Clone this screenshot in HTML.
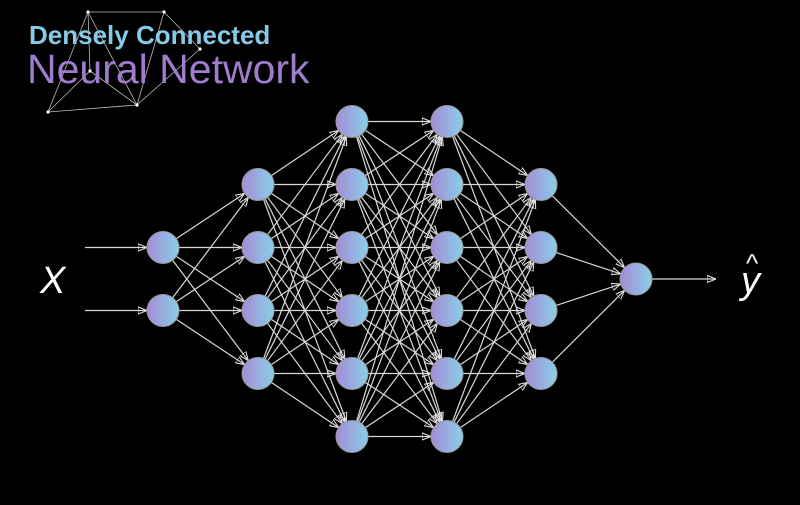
<!DOCTYPE html>
<html><head><meta charset="utf-8"><style>
body{margin:0;background:#000;}
svg{display:block}
</style></head><body>
<svg id="c" width="800" height="505" viewBox="0 0 800 505" xmlns="http://www.w3.org/2000/svg">
<defs>
<linearGradient id="g" x1="0" x2="1" y1="0" y2="0"><stop offset="0" stop-color="#a68bd6"/><stop offset="1" stop-color="#88cfe8"/></linearGradient>
<marker id="ah" viewBox="0 0 10 10" refX="10" refY="5" markerWidth="9" markerHeight="9" markerUnits="userSpaceOnUse" orient="auto"><path d="M0,1 L10,5 L0,9 Z" fill="none" stroke="#ddd" stroke-width="1.2"/></marker>
</defs>
<rect width="800" height="505" fill="#000"/>
<g id="deco" stroke="#bbb" stroke-width="0.8" fill="#fff"></g>
<text x="29" y="44" font-family="Liberation Sans, sans-serif" font-weight="bold" font-size="26" fill="#87c9e6">Densely Connected</text>
<text x="27" y="83" font-family="Liberation Sans, sans-serif" font-size="41" fill="#a07ccc">Neural Network</text>
<g id="edges"></g>
<g id="nodes"></g>
<text x="40" y="293" font-family="Liberation Sans, sans-serif" font-style="italic" font-size="38" fill="#fff">X</text>
<text x="741" y="293" font-family="Liberation Sans, sans-serif" font-style="italic" font-size="38" fill="#fff">y</text>
<text x="746" y="272" font-family="Liberation Sans, sans-serif" font-size="26" fill="#fff">^</text>
</svg>
<script>
const layerSizes=[2,4,6,6,4,1];
const decoPts=[[88,12],[164,12],[200,49],[90,71],[137,105],[48,112]];
const decoEdges=[[0,1],[1,2],[0,3],[0,4],[1,4],[2,4],[3,4],[3,5],[5,4],[0,5]];
const NS="http://www.w3.org/2000/svg";
const xs=[163,258,352,447,541,636], yc=279, dy=63, R=16;
function ypos(n,i){return yc+(i-(n-1)/2)*dy;}
const E=document.getElementById('edges'),N=document.getElementById('nodes'),D=document.getElementById('deco');
function line(p,x1,y1,x2,y2,arrow){
 const l=document.createElementNS(NS,'line');
 l.setAttribute('x1',x1);l.setAttribute('y1',y1);l.setAttribute('x2',x2);l.setAttribute('y2',y2);
 l.setAttribute('stroke','#d8d8d8');l.setAttribute('stroke-width','1.2');
 if(arrow)l.setAttribute('marker-end','url(#ah)');
 
 
 p.appendChild(l);
}
decoEdges.forEach(e=>{const a=decoPts[e[0]],b=decoPts[e[1]];
 const l=document.createElementNS(NS,'line');l.setAttribute('x1',a[0]);l.setAttribute('y1',a[1]);l.setAttribute('x2',b[0]);l.setAttribute('y2',b[1]);
 
 
 D.appendChild(l);});
decoPts.forEach(p=>{const c=document.createElementNS(NS,'circle');c.setAttribute('cx',p[0]);c.setAttribute('cy',p[1]);c.setAttribute('r',1.6);c.setAttribute('stroke','none');
 
 
 D.appendChild(c);});
for(let L=0;L<layerSizes.length-1;L++){
 for(let i=0;i<layerSizes[L];i++)for(let j=0;j<layerSizes[L+1];j++){
  const x1=xs[L],y1=ypos(layerSizes[L],i),x2=xs[L+1],y2=ypos(layerSizes[L+1],j);
  const d=Math.hypot(x2-x1,y2-y1),ux=(x2-x1)/d,uy=(y2-y1)/d;
  line(E,x1+ux*R,y1+uy*R,x2-ux*R,y2-uy*R,true);
 }
}
for(let i=0;i<layerSizes[0];i++){const y=ypos(layerSizes[0],i);line(E,85,y,xs[0]-R,y,true);}
line(E,xs[5]+R,yc,716,yc,true);
layerSizes.forEach((n,L)=>{for(let i=0;i<n;i++){
 const c=document.createElementNS(NS,'circle');
 c.setAttribute('cx',xs[L]);c.setAttribute('cy',ypos(n,i));c.setAttribute('r',R);
 c.setAttribute('fill','url(#g)');c.setAttribute('stroke','#999');c.setAttribute('stroke-width','1');
 
 
 N.appendChild(c);}});
</script>
</body></html>
